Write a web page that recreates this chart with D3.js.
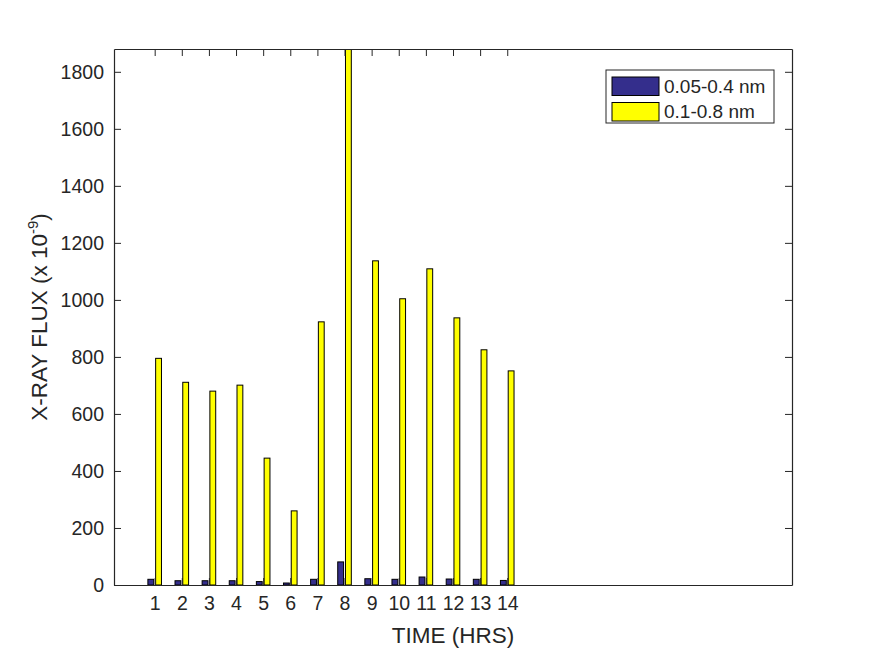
<!DOCTYPE html>
<html>
<head>
<meta charset="utf-8">
<script src="https://cdn.jsdelivr.net/npm/d3@7"></script>
<style>
  html, body { margin: 0; padding: 0; background: #fff; }
  text { font-family: "Liberation Sans", Arial, Helvetica, sans-serif; fill: #262626; }
</style>
</head>
<body>
<svg id="chart" width="875" height="656"></svg>
<script>
const categories = [1, 2, 3, 4, 5, 6, 7, 8, 9, 10, 11, 12, 13, 14];
const seriesNames = ["0.05-0.4 nm", "0.1-0.8 nm"];
const shortBand = [20, 15, 15, 15, 12, 7, 20, 81, 22, 20, 28, 21, 20, 16];
const longBand = [795, 711, 680, 701, 445, 260, 923, 1880, 1137, 1004, 1109, 937, 825, 751];
const yTicks = [0, 200, 400, 600, 800, 1000, 1200, 1400, 1600, 1800];
const xTicks = categories;
const colors = ["#342E8C", "#FFFF00"];

(function () {
const svg = d3.select("#chart");
const L = 114, R = 792, T = 49, B = 585;
const x = d3.scaleLinear().domain([-0.5, 24.5]).range([L, R]);
const y = d3.scaleLinear().domain([0, 1880]).range([B, T]);

svg.append("defs").append("clipPath").attr("id", "plotclip")
  .append("rect").attr("x", L).attr("y", T).attr("width", R - L).attr("height", B - T);

const offsets = [-0.143, 0.143];
const bw = 0.215;
const series = [shortBand, longBand];
const gBars = svg.append("g").attr("clip-path", "url(#plotclip)");
series.forEach((vals, si) => {
  gBars.selectAll(null).data(categories).enter().append("rect")
    .attr("x", (d, i) => x(d + offsets[si] - bw / 2))
    .attr("width", (d) => x(d + bw) - x(d))
    .attr("y", (d, i) => y(vals[i]))
    .attr("height", (d, i) => y(0) - y(vals[i]))
    .attr("fill", colors[si])
    .attr("stroke", "#000")
    .attr("stroke-width", 1);
});

// Axes
const tickLen = 7;
const axisColor = "#262626";
const fmt = d3.format("d");
const gLeft = svg.append("g").attr("transform", `translate(${L},0)`)
  .call(d3.axisLeft(y).tickValues(yTicks).tickSizeInner(-tickLen).tickSizeOuter(0).tickPadding(10).tickFormat(fmt));
const gRight = svg.append("g").attr("transform", `translate(${R},0)`)
  .call(d3.axisRight(y).tickValues(yTicks).tickSizeInner(-tickLen).tickSizeOuter(0).tickFormat(""));
const gBottom = svg.append("g").attr("transform", `translate(0,${B})`)
  .call(d3.axisBottom(x).tickValues(xTicks).tickSizeInner(-tickLen).tickSizeOuter(0).tickPadding(11).tickFormat(fmt));
const gTop = svg.append("g").attr("transform", `translate(0,${T})`)
  .call(d3.axisTop(x).tickValues(xTicks).tickSizeInner(-tickLen).tickSizeOuter(0).tickFormat(""));

[gLeft, gRight, gBottom, gTop].forEach(g => {
  g.select(".domain").attr("stroke", axisColor).attr("stroke-width", 1.2);
  g.selectAll(".tick line").attr("stroke", axisColor).attr("stroke-width", 1);
  g.selectAll(".tick text").attr("font-size", 19.5).attr("fill", axisColor)
    .style("font-family", '"Liberation Sans", Arial, sans-serif');
});
gLeft.selectAll(".tick text").attr("dy", "0.35em");

// Axis labels
svg.append("text").attr("x", (L + R) / 2).attr("y", 643)
  .attr("text-anchor", "middle").attr("font-size", 22.5).text("TIME (HRS)");

const yl = svg.append("text")
  .attr("transform", `translate(47,${(T + B) / 2}) rotate(-90)`)
  .attr("text-anchor", "middle").attr("font-size", 22.5);
yl.append("tspan").text("X-RAY FLUX (x 10");
yl.append("tspan").attr("font-size", 15).attr("dy", -9).text("-9");
yl.append("tspan").attr("dy", 9).text(")");

// Legend
const lg = svg.append("g");
lg.append("rect").attr("x", 606).attr("y", 70).attr("width", 168).attr("height", 53)
  .attr("fill", "#fff").attr("stroke", axisColor).attr("stroke-width", 1);
seriesNames.forEach((name, i) => {
  const yy = 77 + i * 25.5;
  lg.append("rect").attr("x", 612).attr("y", yy).attr("width", 47).attr("height", 18.5)
    .attr("fill", colors[i]).attr("stroke", "#000").attr("stroke-width", 1);
  lg.append("text").attr("x", 664).attr("y", yy + 15.5).attr("font-size", 19).text(name);
});
})();
</script>
</body>
</html>
